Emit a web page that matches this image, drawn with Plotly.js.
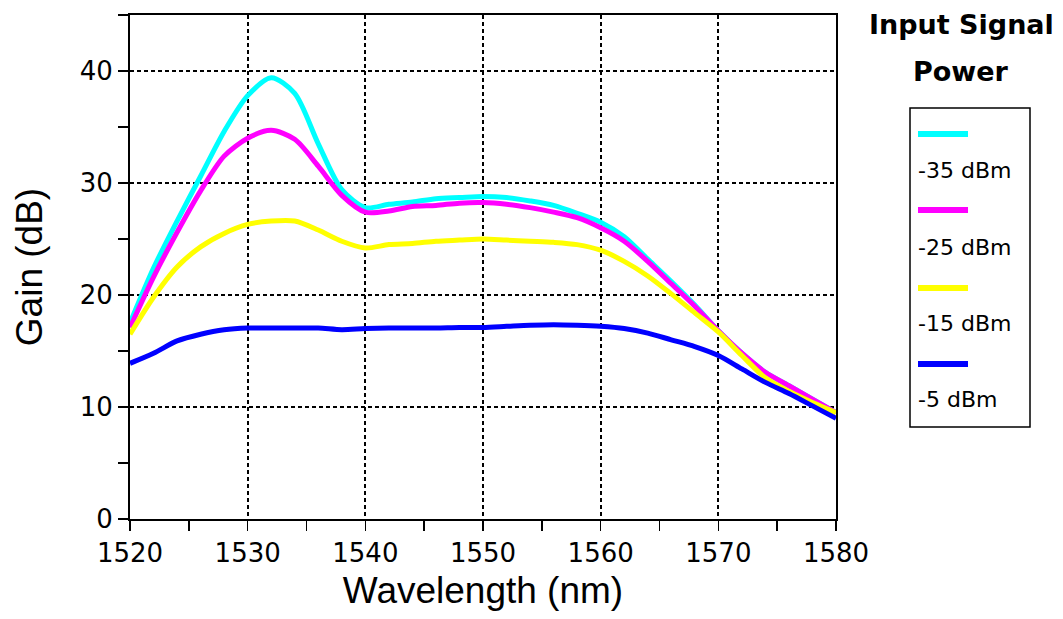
<!DOCTYPE html>
<html>
<head>
<meta charset="utf-8">
<script src="https://cdn.plot.ly/plotly-3.0.1.min.js"></script>
<style>
  html, body { margin: 0; padding: 0; background: #ffffff; }
  #chart { width: 1063px; height: 619px; }
</style>
</head>
<body>
<div id="chart"></div>
<script>
// Wavelength (nm)
const wavelength = [1520,1522,1524,1526,1528,1530,1532,1534,1536,1538,1540,1542,1544,1546,1548,1550,1552,1554,1556,1558,1560,1562,1564,1566,1568,1570,1572,1574,1576,1578,1580];

// Gain (dB) per input signal power
const gain_m35 = [17.5,22.4,26.6,30.6,34.6,37.8,39.4,38.0,33.5,29.4,27.8,28.1,28.3,28.6,28.7,28.8,28.7,28.4,28.0,27.3,26.5,25.2,23.2,21.2,19.1,16.8,14.8,13.1,11.9,10.7,9.5];
const gain_m25 = [17.1,21.6,25.6,29.3,32.4,34.0,34.7,33.9,31.5,28.9,27.4,27.5,27.9,28.0,28.2,28.25,28.1,27.8,27.4,26.9,26.0,24.8,23.0,21.0,19.0,16.8,14.8,13.1,11.9,10.7,9.5];
const gain_m15 = [16.5,19.8,22.5,24.3,25.5,26.3,26.6,26.6,25.8,24.8,24.2,24.5,24.6,24.8,24.9,25.0,24.9,24.8,24.7,24.5,24.0,23.0,21.7,20.1,18.4,16.7,14.6,12.6,11.4,10.4,9.5];
const gain_m5  = [13.9,14.8,15.9,16.5,16.9,17.05,17.05,17.05,17.05,16.9,17.0,17.05,17.05,17.05,17.1,17.1,17.2,17.3,17.35,17.3,17.2,17.0,16.6,16.0,15.4,14.6,13.4,12.2,11.2,10.1,9.0];

const seriesNames = ['-35 dBm','-25 dBm','-15 dBm','-5 dBm'];
const seriesValues = [gain_m35, gain_m25, gain_m15, gain_m5];
const seriesColors = ['#00FFFF','#FF00FF','#FFFF00','#0000FF'];

const xTicks = [1520,1530,1540,1550,1560,1570,1580];
const yTicks = [0,10,20,30,40];

const traces = seriesValues.map((vals, i) => ({
  x: wavelength,
  y: vals,
  type: 'scatter',
  mode: 'lines',
  name: seriesNames[i],
  line: { color: seriesColors[i], width: 5, shape: 'spline', smoothing: 0.8 },
  showlegend: false,
  hoverinfo: 'skip'
}));

const W = 1063, H = 619;
const mL = 130, mR = 227, mT = 15, mB = 100;
const pw = W - mL - mR, ph = H - mT - mB;
const px = v => (v - mL) / pw;
const py = v => (H - mB - v) / ph;

const font = 'Liberation Sans, Arial, Helvetica, sans-serif';
const wide = 'DejaVu Sans, Verdana, sans-serif';

const shapes = [];
const annotations = [];

// legend box
shapes.push({ type: 'rect', xref: 'paper', yref: 'paper',
  x0: px(910), x1: px(1030), y0: py(427), y1: py(108),
  line: { color: '#000000', width: 1.5 }, fillcolor: 'rgba(0,0,0,0)' });

annotations.push({ xref: 'paper', yref: 'paper', x: px(961), y: py(24), text: '<b>Input Signal</b>',
  showarrow: false, xanchor: 'center', yanchor: 'middle', font: { family: wide, size: 27, color: '#000' } });
annotations.push({ xref: 'paper', yref: 'paper', x: px(961), y: py(71), text: '<b>Power</b>',
  showarrow: false, xanchor: 'center', yanchor: 'middle', font: { family: wide, size: 27, color: '#000' } });

const sampleY = [134, 210, 288, 364];
const labelY = [170, 247, 323, 399];
seriesNames.forEach((n, i) => {
  shapes.push({ type: 'line', xref: 'paper', yref: 'paper',
    x0: px(918), x1: px(968), y0: py(sampleY[i]), y1: py(sampleY[i]),
    line: { color: seriesColors[i], width: 6 } });
  annotations.push({ xref: 'paper', yref: 'paper', x: px(916), y: py(labelY[i]), text: n,
    showarrow: false, xanchor: 'left', yanchor: 'middle', font: { family: wide, size: 22, color: '#000' } });
});

const layout = {
  width: W, height: H,
  margin: { l: mL, r: mR, t: mT, b: mB, pad: 0 },
  paper_bgcolor: '#ffffff',
  plot_bgcolor: '#ffffff',
  showlegend: false,
  font: { family: font, color: '#000000' },
  xaxis: {
    range: [1520, 1580],
    tickvals: xTicks,
    ticktext: xTicks.map(String),
    ticks: 'outside', ticklen: 10, tickwidth: 1.5, tickcolor: '#000',
    tickfont: { family: wide, size: 26, color: '#000' },
    showline: true, linecolor: '#000', linewidth: 2, mirror: true,
    showgrid: true, gridcolor: '#000', gridwidth: 2, griddash: '4px,3px',
    minor: { dtick: 5, tick0: 1520, ticks: 'outside', ticklen: 10, tickwidth: 1.5, tickcolor: '#000', showgrid: false },
    zeroline: false,
    title: { text: 'Wavelength (nm)', font: { family: font, size: 37, color: '#000' }, standoff: 10 },
    automargin: false
  },
  yaxis: {
    range: [0, 45],
    tickvals: yTicks,
    ticktext: yTicks.map(String),
    ticks: 'outside', ticklen: 10, tickwidth: 1.5, tickcolor: '#000',
    tickfont: { family: wide, size: 26, color: '#000' },
    showline: true, linecolor: '#000', linewidth: 2, mirror: true,
    showgrid: true, gridcolor: '#000', gridwidth: 2, griddash: '4px,3px',
    minor: { dtick: 5, tick0: 0, ticks: 'outside', ticklen: 10, tickwidth: 1.5, tickcolor: '#000', showgrid: false },
    zeroline: false,
    title: { text: 'Gain (dB)', font: { family: font, size: 37, color: '#000' }, standoff: 26 },
    automargin: false
  },
  shapes: shapes,
  annotations: annotations
};

Plotly.newPlot('chart', traces, layout, { displayModeBar: false, staticPlot: true });
</script>
</body>
</html>
